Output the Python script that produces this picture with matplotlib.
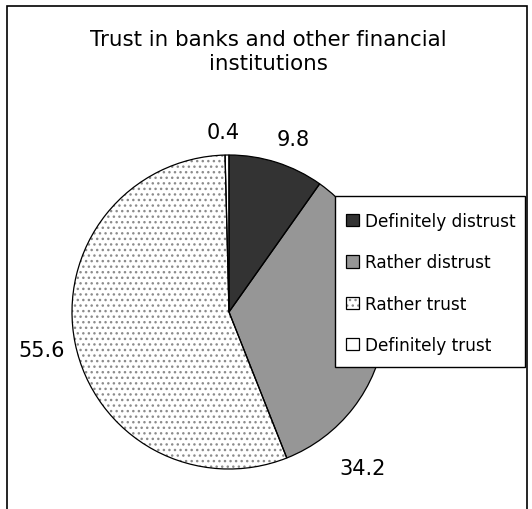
import numpy as np
import matplotlib
matplotlib.use("Agg")
import matplotlib.pyplot as plt
import matplotlib.patches as patches

plt.rcParams['font.family'] = ['DejaVu Sans']
plt.rcParams['hatch.linewidth'] = 1.0

# Survey answers, percent
categories = ["Definitely distrust", "Rather distrust", "Rather trust", "Definitely trust"]
values = [9.8, 34.2, 55.6, 0.4]
value_labels = ["9.8", "34.2", "55.6", "0.4"]

fill_colors = ['#333333', '#969696', 'white', 'white']
hatches = [None, None, '...', None]

W, H = 532, 510
fig = plt.figure(figsize=(W / 100, H / 100), dpi=100)

# pie centre and radius in pixels
cx, cy, r = 229, 313, 157
lim = 1.3
size = 2 * lim * r
ax = fig.add_axes([(cx - size / 2) / W, (H - cy - size / 2) / H, size / W, size / H])

# filled wedges (hatched one gets gray dots)
fills, _ = ax.pie(values, colors=fill_colors, startangle=90, counterclock=False,
                  wedgeprops=dict(linewidth=0), normalize=True)
for w, h in zip(fills, hatches):
    if h:
        w.set_hatch(h)
        w.set_edgecolor('#8c8c8c')
        w.set_linewidth(0)
# black outlines on top
outlines, _ = ax.pie(values, colors=['none'] * 4, startangle=90, counterclock=False,
                     wedgeprops=dict(linewidth=0.9, edgecolor='black', facecolor='none'),
                     normalize=True)
ax.set_xlim(-lim, lim)
ax.set_ylim(-lim, lim)
ax.set_aspect('equal')
ax.axis('off')

# value labels around the pie
label_dist = [1.175, 1.31, 1.215, 1.147]
label_shift = [-2.7, -42.7, 0, 1]
for w, txt, d, s in zip(fills, value_labels, label_dist, label_shift):
    ang = np.deg2rad((w.theta1 + w.theta2) / 2 + s)
    ax.text(d * np.cos(ang), d * np.sin(ang), txt, ha='center', va='center', fontsize=15)

fig.text(268 / W, 1 - 52 / H, "Trust in banks and other financial\ninstitutions",
         ha='center', va='center', fontsize=15.4, linespacing=1.3)

# legend box drawn separately so the padding can differ from the row layout
fig.add_artist(patches.Rectangle((335 / W, 1 - 368 / H), 190 / W, 171 / H,
                                 transform=fig.transFigure, facecolor='white',
                                 edgecolor='black', linewidth=1.0, zorder=1))
leg = fig.legend([(f, o) for f, o in zip(fills, outlines)], categories,
                 loc='upper left', bbox_to_anchor=(346 / W, 1 - 213 / H),
                 fontsize=12.2, frameon=False,
                 handlelength=0.75, handleheight=0.75, handletextpad=0.35,
                 labelspacing=1.38, borderpad=0, borderaxespad=0)

# outer chart border (open at the bottom edge)
fig.add_artist(patches.Rectangle((7 / W, -0.05), (527 - 7) / W, 1.05 - 7 / H,
                                 transform=fig.transFigure, fill=False,
                                 edgecolor='black', linewidth=1.2))

fig.savefig("out.png", dpi=100)
